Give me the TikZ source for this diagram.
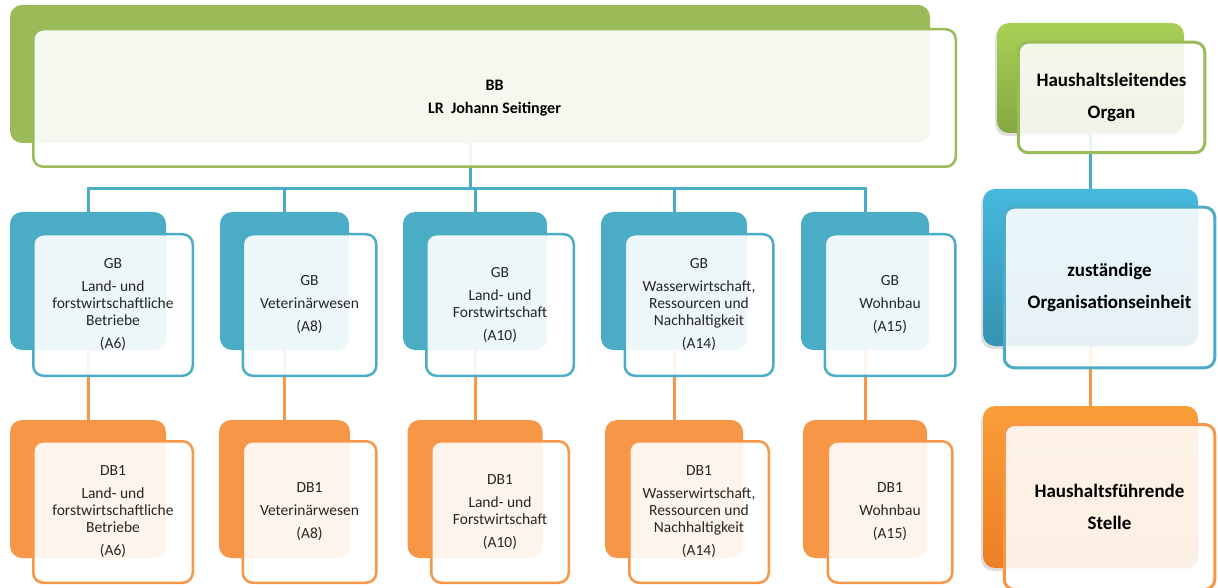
\documentclass[tikz,border=0pt]{standalone}
\usepackage{fontspec}
\setmainfont{Carlito}
\usetikzlibrary{positioning,shadows}
\usepackage{color}
\definecolor{bbgreen}{HTML}{9BBB59}
\definecolor{gbblue}{HTML}{4BACC6}
\definecolor{dborange}{HTML}{F79646}
\definecolor{leggreentop}{HTML}{A8D055}
\definecolor{leggreenbot}{HTML}{86A842}
\definecolor{legbluetop}{HTML}{45B9DD}
\definecolor{legbluebot}{HTML}{3592B2}
\definecolor{legorangetop}{HTML}{FA9E3A}
\definecolor{legorangebot}{HTML}{EC7F22}

\begin{document}
\begin{tikzpicture}[x=1pt,y=-1pt,node distance=208pt,on grid,
  back/.style={rounded corners=12pt,inner sep=0pt,minimum height=138pt,minimum width=#1},
  front/.style={rounded corners=10pt,inner sep=0pt,draw,line width=2.5pt,fill=white,fill opacity=.9,
    text opacity=1,text=black!85,align=center,minimum height=141.5pt,minimum width=#1,
    font=\fontsize{15.5}{17}\selectfont}]
\useasboundingbox (0,0) rectangle (1218,588);
\tikzset{gbback/.style={back=#1,fill=gbblue}}
\tikzset{gbfront/.style={front=#1,draw=gbblue}}
\tikzset{dbback/.style={back=#1,fill=dborange}}
\tikzset{dbfront/.style={front=#1,draw=dborange}}
\tikzset{legback/.style={rounded corners=12pt,inner sep=0pt,drop shadow={shadow xshift=-2pt,shadow yshift=-3pt,opacity=.25}}}
\tikzset{legfront/.style={rounded corners=10pt,inner sep=0pt,draw,line width=3pt,fill=white,fill opacity=.88,
    text opacity=1,align=center,font=\bfseries\fontsize{19}{32}\selectfont}}
\tikzset{busline/.style={draw=gbblue,line width=3pt}}
\tikzset{dbline/.style={draw=dborange,line width=3pt}}

  % back boxes
  \node[back=920pt,fill=bbgreen,minimum height=138pt] (bbb) at (470,74) {};
  \node[gbback=156pt] (gb1b) at (88,281)    {};
  \node[gbback=129pt] (gb2b) at (284.5,281) {};
  \node[gbback=144pt] (gb3b) at (475,281)   {};
  \node[gbback=146pt] (gb4b) at (674,281)   {};
  \node[gbback=128pt] (gb5b) at (865,281)   {};
  \node[dbback=156pt] (db1b) [below=of gb1b] {};
  \node[dbback=131pt] (db2b) [below=of gb2b] {};
  \node[dbback=135pt] (db3b) [below=of gb3b] {};
  \node[dbback=138pt] (db4b) [below=of gb4b] {};
  \node[dbback=124pt] (db5b) [below=of gb5b] {};

  \node[legback,top color=leggreentop,bottom color=leggreenbot,
        minimum width=187pt,minimum height=110pt] (lgb) at (1090.5,78) {};
  \node[legback,top color=legbluetop,bottom color=legbluebot,
        minimum width=215pt,minimum height=157pt] (lbb) at (1090.5,267.5) {};
  \node[legback,top color=legorangetop,bottom color=legorangebot,
        minimum width=215pt,minimum height=162pt] (lob) at (1090.5,487) {};

  % connectors
  \coordinate (bus) at ([yshift=23pt]bbb.south |- gb1b.north);
  \draw[busline] (bbb.south) -- (bus)
      (bus) -| (gb1b.north) (bus) -| (gb2b.north) (bus) -| (gb3b.north)
      (bus) -| (gb4b.north) (bus) -| (gb5b.north);
\path
      (gb1b)  edge [dbline]  (db1b)
      (gb2b)  edge [dbline]  (db2b)
      (gb3b)  edge [dbline]  (db3b)
      (gb4b)  edge [dbline]  (db4b)
      (gb5b)  edge [dbline]  (db5b);
\path
      (lgb)   edge [busline] (lbb)
      (lbb)   edge [dbline]  (lob);

  % front boxes
  \node[front=922.5pt,draw=bbgreen,minimum height=137.5pt,font=\bfseries\fontsize{16}{23}\selectfont,text=black]
       (bb) [below right=24pt and 24.5pt of bbb] {BB\\LR~~Johann Seitinger};
  \node[gbfront=159.5pt] (gb1) [below right=24pt and 25pt of gb1b]
       {GB\\[6pt]Land- und\\forstwirtschaftliche\\Betriebe\\[6pt](A6)};
  \node[gbfront=133.5pt] (gb2) [below right=24pt and 25pt of gb2b]
       {GB\\[6pt]Veterinärwesen\\[6pt](A8)};
  \node[gbfront=147.5pt] (gb3) [below right=24pt and 25pt of gb3b]
       {GB\\[6pt]Land- und\\Forstwirtschaft\\[6pt](A10)};
  \node[gbfront=148.5pt] (gb4) [below right=24pt and 25pt of gb4b]
       {GB\\[6pt]Wasserwirtschaft,\\Ressourcen und\\Nachhaltigkeit\\[6pt](A14)};
  \node[gbfront=130.5pt] (gb5) [below right=24pt and 25pt of gb5b]
       {GB\\[6pt]Wohnbau\\[6pt](A15)};
  \node[dbfront=159.5pt] (db1) [below right=23pt and 25pt of db1b]
       {DB1\\[6pt]Land- und\\forstwirtschaftliche\\Betriebe\\[6pt](A6)};
  \node[dbfront=133.5pt] (db2) [below right=23pt and 25pt of db2b]
       {DB1\\[6pt]Veterinärwesen\\[6pt](A8)};
  \node[dbfront=137.5pt] (db3) [below right=23pt and 25pt of db3b]
       {DB1\\[6pt]Land- und\\Forstwirtschaft\\[6pt](A10)};
  \node[dbfront=139.5pt] (db4) [below right=23pt and 25pt of db4b]
       {DB1\\[6pt]Wasserwirtschaft,\\Ressourcen und\\Nachhaltigkeit\\[6pt](A14)};
  \node[dbfront=124.5pt] (db5) [below right=23pt and 25pt of db5b]
       {DB1\\[6pt]Wohnbau\\[6pt](A15)};

  \node[legfront,draw=bbgreen,minimum width=186.5pt,minimum height=110.5pt]
       (lg) [below right=19.5pt and 21pt of lgb] {Haushaltsleitendes\\Organ};
  \node[legfront,draw=gbblue,minimum width=210.5pt,minimum height=160.5pt]
       (lb) [below right=20pt and 19pt of lbb] {zuständige\\Organisationseinheit};
  \node[legfront,draw=dborange,minimum width=210.5pt,minimum height=165pt]
       (lo) [below right=20pt and 19pt of lob] {Haushaltsführende\\Stelle};
\end{tikzpicture}
\end{document}
